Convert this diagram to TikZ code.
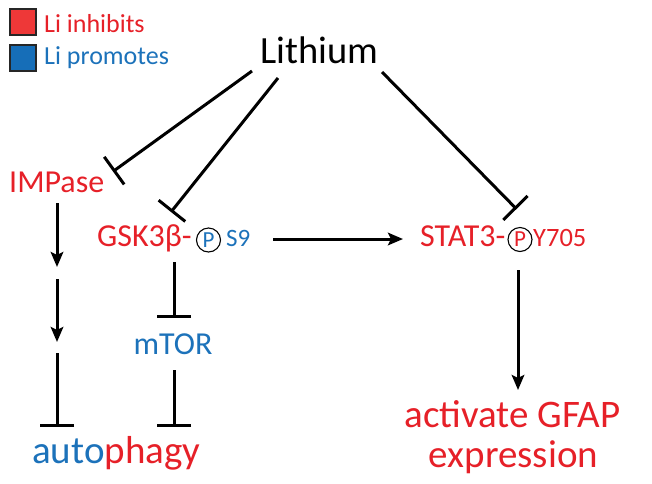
\documentclass[tikz,border=0pt]{standalone}
\usepackage{fontspec}
\setmainfont{Carlito}
\usetikzlibrary{arrows.meta}
\definecolor{lired}{RGB}{230,32,40}
\definecolor{liblue}{RGB}{28,114,186}
\definecolor{sqred}{RGB}{238,56,56}
\definecolor{sqblue}{RGB}{22,110,184}
\tikzset{
  lbl/.style={inner sep=0pt, anchor=base west},
  cbl/.style={inner sep=0pt, anchor=base},
  big/.style={font=\fontsize{32}{38}\selectfont},
  huge/.style={font=\fontsize{39}{40}\selectfont},
  small/.style={font=\fontsize{25}{28}\selectfont},
  leg/.style={font=\fontsize{26}{30}\selectfont},
  sq/.style={draw=black!85, line width=1.3pt},
  inh/.style={line width=3pt, -{Bar[width=34pt]}},
  act/.style={line width=3pt, -{Stealth[length=15pt,width=12.5pt,inset=3pt]}},
  pcirc/.style={circle, draw=black, line width=1.1pt, inner sep=0pt, minimum size=24pt, font=\fontsize{23}{23}\selectfont},
}
\begin{document}
\begin{tikzpicture}[x=1pt,y=-1pt]
\useasboundingbox (0,0) rectangle (652,483);
% legend
\filldraw[sq, fill=sqred] (10,9) rectangle (36,35);
\filldraw[sq, fill=sqblue] (10,45) rectangle (36,71);
\node[lbl, leg, text=lired] (leginh) at (44,32) {Li inhibits};
\node[lbl, leg, text=liblue] (legpro) at (44,64) {Li promotes};
% nodes
\node[cbl, font=\fontsize{38.5}{40}\selectfont] (lith) at (319.5,63) {Lithium};
\node[lbl, big, text=lired] (imp) at (9,192) {IMPase};
\node[lbl, big, text=lired] (gsk) at (97,246) {GSK3β-};
\node[pcirc, text=liblue] (gskp) at (208.5,240) {P};
\node[lbl, small, text=liblue] (gsks) at (226,246.5) {S9};
\node[lbl, big, text=lired] (stat) at (420,246) {STAT3-};
\node[pcirc, text=lired] (statp) at (520,239.5) {P};
\node[lbl, font=\fontsize{26.5}{28}\selectfont, text=lired] (staty) at (533,246.5) {Y705};
\node[cbl, big, text=liblue] (mtor) at (173,354) {mTOR};
\node[lbl, huge] (auto) at (32,463) {\textcolor{liblue}{auto}\textcolor{lired}{phagy}};
\node[cbl, huge, text=lired] (gfap1) at (512.5,427) {activate GFAP};
\node[cbl, huge, text=lired] (gfap2) at (513.5,467) {expression};
% connector end points
\coordinate (l1s) at (252,71);  \coordinate (l1e) at (113,171.5);
\coordinate (l2s) at (278,78);  \coordinate (l2e) at (171,212);
\coordinate (l3s) at (382,72);  \coordinate (l3e) at (516.5,209);
\coordinate (i1s) at (57,203);  \coordinate (i1e) at (57,267);
\coordinate (i2s) at (57,279);  \coordinate (i2e) at (57,342);
\coordinate (i3s) at (57,353);  \coordinate (i3e) at (57,427);
\coordinate (g1s) at (174,262); \coordinate (g1e) at (174,318);
\coordinate (m1s) at (174,370); \coordinate (m1e) at (174,427);
\coordinate (gss) at (273,239); \coordinate (gse) at (403,239);
\coordinate (s1s) at (518,270); \coordinate (s1e) at (518,390);
% connectors
\draw[inh] (l1s) -- (l1e);
\draw[inh] (l2s) -- (l2e);
\draw[inh] (l3s) -- (l3e);
\draw[act] (i1s) -- (i1e);
\draw[act] (i2s) -- (i2e);
\draw[inh] (i3s) -- (i3e);
\draw[inh] (g1s) -- (g1e);
\draw[inh] (m1s) -- (m1e);
\draw[act] (gss) -- (gse);
\draw[act] (s1s) -- (s1e);
\end{tikzpicture}
\end{document}
